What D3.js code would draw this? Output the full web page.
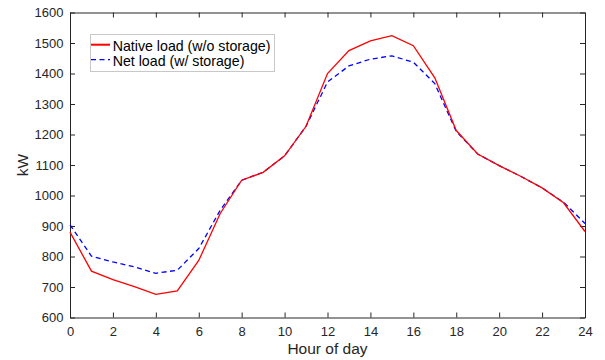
<!DOCTYPE html>
<html>
<head>
<meta charset="utf-8">
<script src="https://cdn.jsdelivr.net/npm/d3@7"></script>
<style>
  body { margin: 0; background: #fff; }
  svg { font-family: "Liberation Sans", Arial, sans-serif; }
</style>
</head>
<body>
<svg id="canvas"></svg>
<script>
let hours = d3.range(0, 25)
let nativeLoad = [880, 752, 724, 701, 676, 687, 787, 941, 1050, 1076, 1130, 1227, 1400, 1475, 1507, 1524, 1491, 1386, 1213, 1136, 1098, 1063, 1025, 976, 882]
let netLoad = [904, 801, 782, 766, 745, 755, 826, 952, 1050, 1076, 1130, 1227, 1372, 1425, 1447, 1458, 1437, 1367, 1210, 1136, 1098, 1063, 1025, 978, 908]
let xTicks = d3.range(0, 25, 2)
let yTicks = d3.range(600, 1601, 100)
let seriesNames = ['Native load (w/o storage)', 'Net load (w/ storage)']

let w = 605
let h = 360
let padLeft = 70, padRight = 585, padTop = 12.5, padBottom = 317.5

let canvas = d3.select('#canvas')
canvas.attr('width', w).attr('height', h)

let xScale = d3.scaleLinear().domain([0, 24]).range([padLeft, padRight])
let yScale = d3.scaleLinear().domain([600, 1600]).range([padBottom, padTop])

let axisColor = '#262626'

// axes with inward ticks (box on)
let xAxis = d3.axisBottom(xScale).tickValues(xTicks).tickSize(-5).tickPadding(9.5).tickSizeOuter(0).tickFormat(d3.format('d'))
let xTop = d3.axisTop(xScale).tickValues(xTicks).tickSize(-5).tickFormat('').tickSizeOuter(0)
let yAxis = d3.axisLeft(yScale).tickValues(yTicks).tickSize(-5).tickPadding(6.5).tickSizeOuter(0).tickFormat(d3.format('d'))
let yRight = d3.axisRight(yScale).tickValues(yTicks).tickSize(-5).tickFormat('').tickSizeOuter(0)

let styleAxis = (g) => {
    g.selectAll('path').attr('stroke', axisColor).attr('stroke-width', 1)
    g.selectAll('line').attr('stroke', axisColor).attr('stroke-width', 1)
    g.selectAll('text').attr('fill', axisColor).style('font-size', '13px')
}

canvas.append('g').attr('transform', 'translate(0,' + padBottom + ')').call(xAxis).call(styleAxis)
canvas.append('g').attr('transform', 'translate(0,' + padTop + ')').call(xTop).call(styleAxis)
canvas.append('g').attr('transform', 'translate(' + padLeft + ',0)').call(yAxis).call(styleAxis)
canvas.append('g').attr('transform', 'translate(' + padRight + ',0)').call(yRight).call(styleAxis)

let line = d3.line()
    .x((d, i) => xScale(hours[i]))
    .y((d) => yScale(d))

canvas.append('path')
    .datum(netLoad)
    .attr('d', line)
    .attr('fill', 'none')
    .attr('stroke', '#0000ff')
    .attr('stroke-width', 1.3)
    .attr('stroke-dasharray', '5,3.5')

canvas.append('path')
    .datum(nativeLoad)
    .attr('d', line)
    .attr('fill', 'none')
    .attr('stroke', '#ff0000')
    .attr('stroke-width', 1.3)

// axis labels
canvas.append('text')
    .attr('x', (padLeft + padRight) / 2)
    .attr('y', 353.5)
    .attr('text-anchor', 'middle')
    .attr('fill', axisColor)
    .style('font-size', '15.5px')
    .text('Hour of day')

canvas.append('text')
    .attr('transform', 'translate(28,' + ((padTop + padBottom) / 2) + ') rotate(-90)')
    .attr('text-anchor', 'middle')
    .attr('fill', axisColor)
    .style('font-size', '15.5px')
    .text('kW')

// legend
let legend = canvas.append('g')
legend.append('rect')
    .attr('x', 90.5).attr('y', 34.5)
    .attr('width', 184).attr('height', 37)
    .attr('fill', '#fff')
    .attr('stroke', '#c8c8c8')
    .attr('stroke-width', 1)

let legendColors = ['#ff0000', '#0000ff']
let legendDash = [null, '5,3.5']
seriesNames.forEach((name, i) => {
    let yy = 44.7 + i * 15
    legend.append('line')
        .attr('x1', 91).attr('x2', 110)
        .attr('y1', yy).attr('y2', yy)
        .attr('stroke', legendColors[i])
        .attr('stroke-width', i == 0 ? 2 : 1.3)
        .attr('stroke-dasharray', legendDash[i])
    legend.append('text')
        .attr('x', 112.7).attr('y', 51.3 + i * 14.5)
        .attr('fill', '#000')
        .style('font-size', '14.2px')
        .text(name)
})
</script>
</body>
</html>
